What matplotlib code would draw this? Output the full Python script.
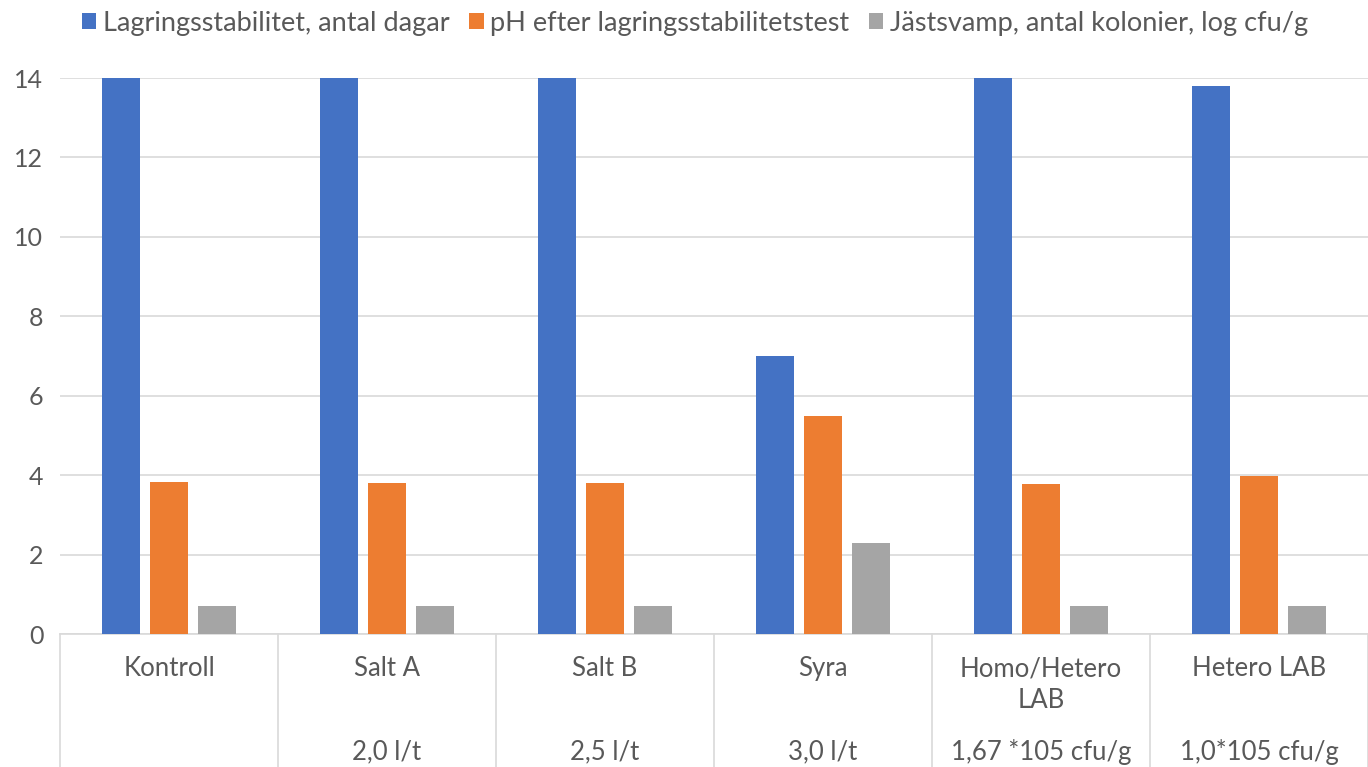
import matplotlib
matplotlib.use("Agg")
import matplotlib.pyplot as plt
import matplotlib.transforms as mtransforms
from matplotlib.patches import Patch
import numpy as np

plt.rcParams['font.family'] = ['Lato', 'DejaVu Sans']

categories = ["Kontroll", "Salt A", "Salt B", "Syra", "Homo/Hetero\nLAB", "Hetero LAB"]
sublabels = ["", "2,0 l/t", "2,5 l/t", "3,0 l/t", "1,67 *105 cfu/g", "1,0*105 cfu/g"]
series_names = ["Lagringsstabilitet, antal dagar", "pH efter lagringsstabilitetstest",
                "Jästsvamp, antal kolonier, log cfu/g"]
stability_days = [14, 14, 14, 7, 14, 13.8]
ph_values = [3.82, 3.8, 3.8, 5.5, 3.77, 3.98]
yeast_log = [0.7, 0.7, 0.7, 2.3, 0.7, 0.7]
yticks = [0, 2, 4, 6, 8, 10, 12, 14]
colors = ["#4472C4", "#ED7D31", "#A5A5A5"]

W, H = 1368, 767
fig = plt.figure(figsize=(W / 100, H / 100), dpi=100)
ax_left, ax_right, ax_top, ax_bottom = 60, 1368, 78, 634
ax = fig.add_axes([ax_left / W, 1 - ax_bottom / H, (ax_right - ax_left) / W, (ax_bottom - ax_top) / H])

x = np.arange(len(categories))
bw = 0.175
off = 0.222
for i, (vals, c) in enumerate(zip([stability_days, ph_values, yeast_log], colors)):
    ax.bar(x + (i - 1) * off, vals, width=bw, color=c, zorder=3)

ax.set_xlim(-0.5, len(categories) - 0.5)
ax.set_ylim(0, 14)
ax.set_yticks(yticks)
ax.set_yticklabels([str(t) for t in yticks])
ax.tick_params(axis='y', length=0, pad=12, labelsize=18, labelcolor="#595959")
ax.set_xticks([])
ax.grid(axis='y', color="#D9D9D9", linewidth=1.2, zorder=0)
for s in ['left', 'right', 'top']:
    ax.spines[s].set_visible(False)
ax.spines['bottom'].set_color("#D9D9D9")
ax.spines['bottom'].set_linewidth(1.2)
ax.set_facecolor('white')

def yfrac(py):
    return (ax_bottom - py) / (ax_bottom - ax_top)

trans = mtransforms.blended_transform_factory(ax.transData, ax.transAxes)
for d in np.arange(-0.5, len(categories), 1.0):
    ax.plot([d, d], [0, yfrac(H + 5)], transform=trans, color="#D9D9D9",
            linewidth=1.2, clip_on=False)

for i, (lab, sub) in enumerate(zip(categories, sublabels)):
    ax.text(i, yfrac(656), lab, transform=trans, ha='center', va='top',
            fontsize=18.5, color="#595959", linespacing=1.33)
    if sub:
        ax.text(i, yfrac(752), sub, transform=trans, ha='center', va='center',
                fontsize=18.5, color="#595959")

handles = [Patch(facecolor=c, edgecolor='none') for c in colors]
fig.legend(handles, series_names, loc='center', bbox_to_anchor=(0.508, 1 - 23 / H),
           ncol=3, frameon=False, fontsize=19.5, labelcolor="#595959",
           handlelength=0.55, handleheight=0.55, handletextpad=0.25, columnspacing=0.7)

fig.savefig("out.png", dpi=100, facecolor='white')
